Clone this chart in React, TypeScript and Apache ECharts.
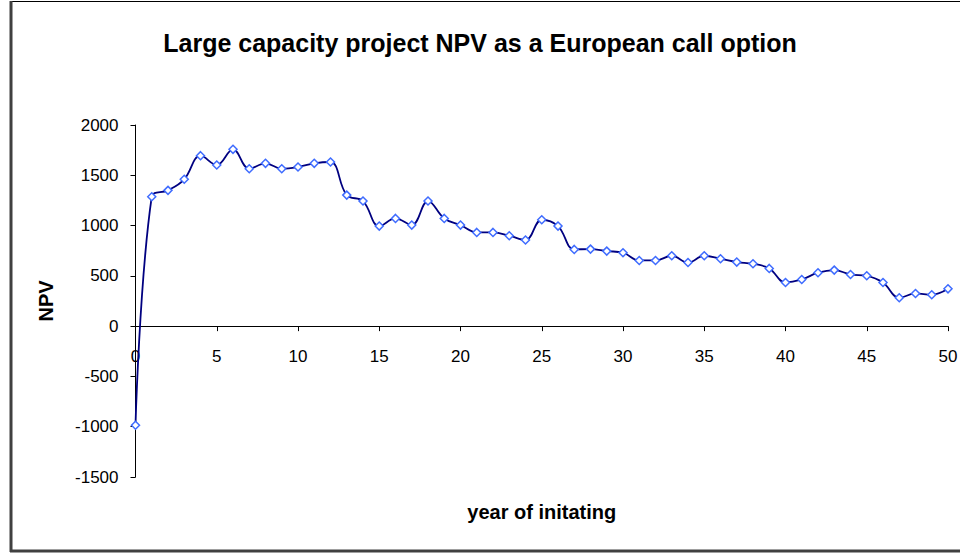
import React, { useEffect, useRef } from "react";
import * as echarts from "echarts";

const years: number[] = [
  0, 1, 2, 3, 4, 5, 6, 7, 8, 9, 10, 11, 12, 13, 14, 15, 16, 17, 18, 19, 20,
  21, 22, 23, 24, 25, 26, 27, 28, 29, 30, 31, 32, 33, 34, 35, 36, 37, 38, 39, 40,
  41, 42, 43, 44, 45, 46, 47, 48, 49, 50,
];
const npv: number[] = [
  -985, 1287, 1350, 1460, 1695, 1602, 1758, 1565, 1619, 1565, 1582, 1619, 1632,
  1303, 1244, 995, 1071, 1005, 1244, 1071, 1005, 932, 932, 899, 856, 1058, 995,
  763, 766, 746, 730, 653, 653, 700, 633, 700, 670, 637, 620, 574, 434, 464, 531,
  557, 514, 501, 434, 282, 325, 312, 371,
];
const titleText = "Large capacity project NPV as a European call option";
const xName = "year of initating";
const yName = "NPV";

export default function App() {
  const ref = useRef<HTMLDivElement>(null);
  useEffect(() => {
    if (!ref.current) return;
    const chart = echarts.init(ref.current, undefined, { renderer: "svg" });
    const font = "'Liberation Sans', Arial, sans-serif";
    chart.setOption({
      animation: false,
      backgroundColor: "#ffffff",
      title: {
        text: titleText,
        left: "center",
        top: 25,
        textStyle: { fontFamily: font, fontWeight: "bold", fontSize: 25, color: "#000" },
      },
      graphic: [
        { type: "line", shape: { x1: 11, y1: 1.5, x2: 960, y2: 1.5 }, style: { stroke: "#000", lineWidth: 1 } },
        { type: "line", shape: { x1: 11, y1: 1, x2: 11, y2: 552 }, style: { stroke: "#404040", lineWidth: 3 } },
        { type: "line", shape: { x1: 10, y1: 551, x2: 960, y2: 551 }, style: { stroke: "#404040", lineWidth: 3 } },
      ],
      grid: { left: 135.5, right: 12, top: 125, bottom: 77, containLabel: false, outerBoundsMode: "none" },
      xAxis: {
        type: "value",
        min: 0,
        max: 50,
        interval: 5,
        offset: -150.86,
        name: xName,
        nameLocation: "middle",
        nameGap: 176,
        nameTextStyle: { fontFamily: font, fontWeight: "bold", fontSize: 20, color: "#000" },
        axisLine: { onZero: false, lineStyle: { color: "#000", width: 1 } },
        axisTick: { show: true, inside: false, length: 5, lineStyle: { color: "#000" } },
        axisLabel: { fontFamily: font, fontSize: 17, color: "#000", margin: 22, formatter: (v: number) => String(v) },
        splitLine: { show: false },
      },
      yAxis: {
        type: "value",
        min: -1500,
        max: 2000,
        interval: 500,
        name: yName,
        nameLocation: "middle",
        nameGap: 80,
        nameRotate: 90,
        nameTextStyle: { fontFamily: font, fontWeight: "bold", fontSize: 20, color: "#000" },
        axisLine: { show: true, lineStyle: { color: "#000", width: 1 } },
        axisTick: { show: true, inside: false, length: 5, lineStyle: { color: "#000" } },
        axisLabel: { fontFamily: font, fontSize: 17, color: "#000", margin: 17, formatter: (v: number) => String(v) },
        splitLine: { show: false },
      },
      series: [
        {
          type: "line",
          data: years.map((y, i) => [y, npv[i]]),
          smooth: 0.4,
          symbol: "diamond",
          symbolSize: 8,
          showSymbol: true,
          lineStyle: { color: "#000080", width: 1.8 },
          itemStyle: { color: "#ffffff", borderColor: "#3f6cff", borderWidth: 1.5 },
          z: 3,
        },
      ],
    });
    return () => chart.dispose();
  }, []);
  return (
    <div
      ref={ref}
      style={{ position: "fixed", left: 0, top: 0, width: 960, height: 554 }}
    />
  );
}
